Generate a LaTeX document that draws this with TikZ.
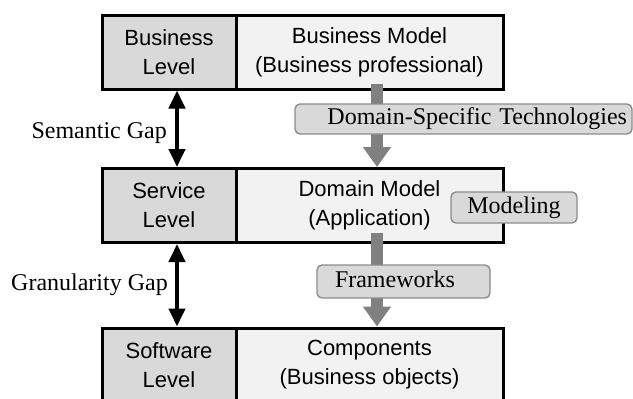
\documentclass[tikz,border=0pt]{standalone}
\usepackage{fontspec}
\setmainfont{Liberation Serif}
\setsansfont{Liberation Sans}
\usetikzlibrary{arrows.meta}

\definecolor{levelgray}{HTML}{D9D9D9}
\definecolor{modelgray}{HTML}{F2F2F2}
\definecolor{taggray}{HTML}{8C8C8C}
\definecolor{flowgray}{HTML}{808080}

\begin{document}
\begin{tikzpicture}[x=1pt,y=-1pt,
  levelbox/.style={draw,line width=3pt,fill=levelgray,minimum width=134pt,minimum height=74pt,
    inner sep=0pt,align=center,font=\sffamily\fontsize{22}{29}\selectfont},
  modelbox/.style={levelbox,fill=modelgray,minimum width=267pt},
  techtag/.style={draw=taggray,line width=1.4pt,fill=levelgray,rounded corners=5pt,inner ysep=0pt,
    font=\fontsize{24}{29}\selectfont,text height=17pt,text depth=6pt},
  gaplabel/.style={inner sep=0pt,font=\fontsize{24}{29}\selectfont},
  gaparrow/.style={line width=4pt,{Triangle[width=16pt,length=18pt]}-{Triangle[width=16pt,length=18pt]}},
  flowarrow/.style={line width=12pt,draw=flowgray,-{Triangle[width=27pt,length=20pt]}}]
\useasboundingbox (0,0) rectangle (633,399);

% levels
\node[levelbox] (bl) at (169,52) {Business\\Level};
\node[modelbox] (bm) at (369.5,52) {Business Model\\(Business professional)};
\node[levelbox] (sl) at (169,205.5) {Service\\Level};
\node[modelbox] (dm) at (369.5,205.5) {Domain Model\\(Application)};
\node[levelbox] (swl) at (169,365) {Software\\Level};
\node[modelbox] (co) at (369.5,365) {Components\\(Business objects)};

% gaps
\draw[gaparrow] ([xshift=8pt]bl.south) -- ([xshift=8pt]sl.north);
\draw[gaparrow] ([xshift=8pt]sl.south) -- ([xshift=8pt]swl.north);
\node[gaplabel,anchor=base east] (sg) at (167,138) {Semantic Gap};
\node[gaplabel,anchor=base east] (gg) at (168,290) {Granularity Gap};

% transformations
\draw[flowarrow] ([xshift=7.5pt,yshift=7pt]bm.south) -- ([xshift=7.5pt]dm.north);
\draw[flowarrow] ([xshift=7.5pt,yshift=11pt]dm.south) -- ([xshift=7.5pt]co.north);

\node[techtag,minimum height=30pt,text width=327pt,inner xsep=5pt,align=right] (dst) at (463.5,119) {Domain-Specific Technologies};
\node[techtag,minimum height=31pt,minimum width=126pt] (mod) at (514,207.5) {Modeling};
\node[techtag,minimum height=33pt,text width=137pt,inner xsep=18pt,align=left] (fw) at (403.5,281.5) {Frameworks};
\end{tikzpicture}
\end{document}
